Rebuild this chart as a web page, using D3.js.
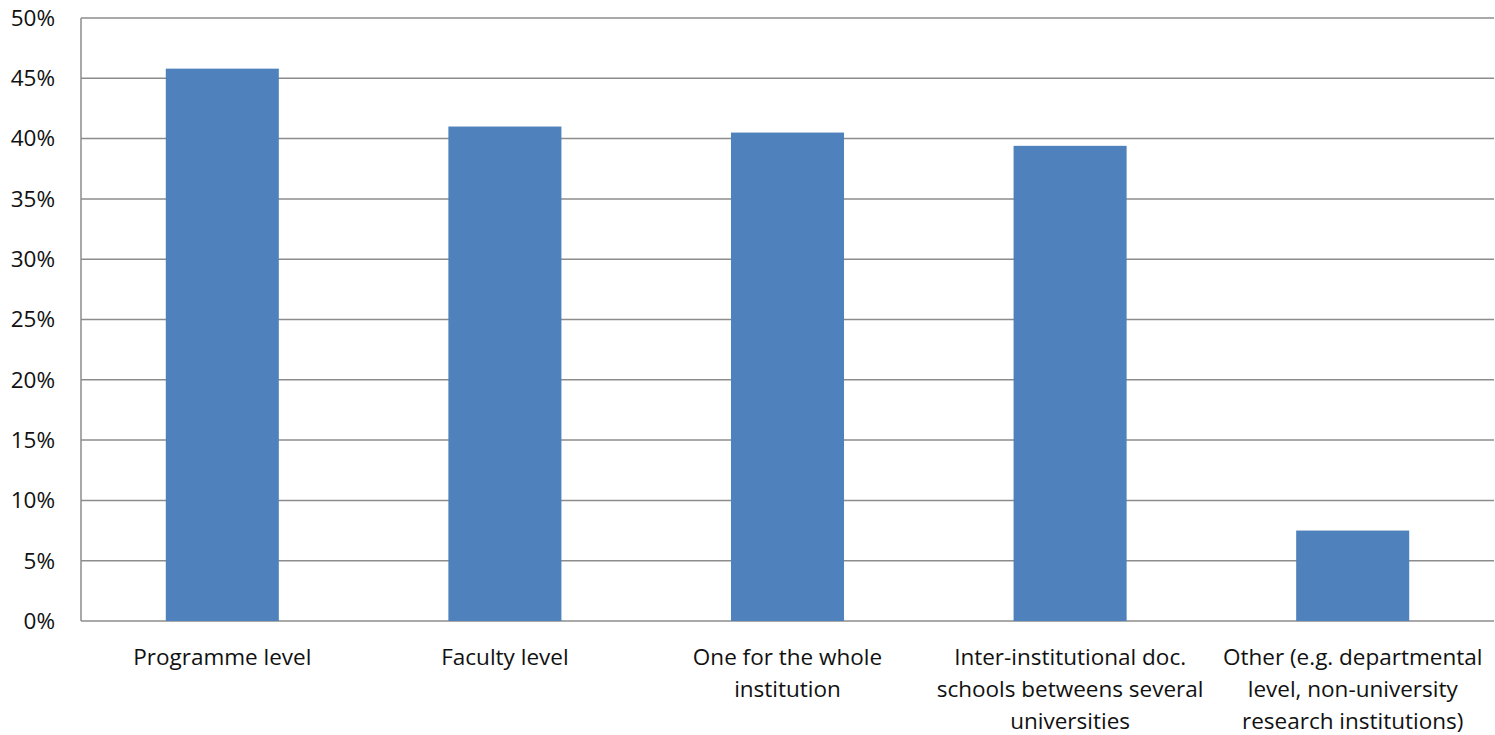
<!DOCTYPE html>
<html>
<head>
<meta charset="utf-8">
<script src="https://cdn.jsdelivr.net/npm/d3@7"></script>
<style>
  body { margin: 0; background: #fff; }
  text { font-family: "Open Sans", "Noto Sans", sans-serif; fill: #111; }
</style>
</head>
<body>
<div id="chart"></div>
<script>
// data
const categories = [
    ["Programme level"],
    ["Faculty level"],
    ["One for the whole", "institution"],
    ["Inter-institutional doc.", "schools betweens several", "universities"],
    ["Other (e.g. departmental", "level, non-university", "research institutions)"]
];
const values = [45.8, 41.0, 40.5, 39.4, 7.5];
const yTicks = [0, 5, 10, 15, 20, 25, 30, 35, 40, 45, 50];

const W = 1495, H = 735;
const margin = {top: 18, right: 1, bottom: 114, left: 81};
const width = W - margin.left - margin.right;
const height = H - margin.top - margin.bottom;

const svg = d3.select("#chart").append("svg")
    .attr("width", W)
    .attr("height", H)
    .append("g")
    .attr("transform", "translate(" + margin.left + "," + margin.top + ")");

const x = d3.scaleBand()
    .domain(d3.range(values.length))
    .range([0, width])
    .paddingInner(0.6)
    .paddingOuter(0.3);

const y = d3.scaleLinear()
    .domain([0, 50])
    .range([height, 0]);

// gridlines
svg.append("g")
    .selectAll("line")
    .data(yTicks)
    .enter().append("line")
    .attr("x1", 0)
    .attr("x2", width)
    .attr("y1", d => y(d))
    .attr("y2", d => y(d))
    .attr("stroke", "#8c8c8c")
    .attr("stroke-width", 1.5);

// bars
svg.append("g")
    .selectAll("rect")
    .data(values)
    .enter().append("rect")
    .attr("x", (d, i) => x(i))
    .attr("y", d => y(d))
    .attr("width", x.bandwidth())
    .attr("height", d => height - y(d))
    .attr("fill", "#4f81bd");

// y axis line
svg.append("line")
    .attr("x1", 0).attr("x2", 0)
    .attr("y1", 0).attr("y2", height)
    .attr("stroke", "#8c8c8c")
    .attr("stroke-width", 1.5);

// y labels
svg.append("g")
    .selectAll("text")
    .data(yTicks)
    .enter().append("text")
    .attr("x", -26)
    .attr("y", d => y(d))
    .attr("dy", "0.35em")
    .attr("text-anchor", "end")
    .style("font-size", "22.5px")
    .text(d => d + "%");

// x labels
const lbl = svg.append("g")
    .selectAll("text")
    .data(categories)
    .enter().append("text")
    .attr("text-anchor", "middle")
    .attr("transform", (d, i) => "translate(" + (x(i) + x.bandwidth() / 2) + "," + (height + 44) + ")")
    .style("font-size", "22.5px");

lbl.selectAll("tspan")
    .data(d => d)
    .enter().append("tspan")
    .attr("x", 0)
    .attr("y", (d, j) => j * 32)
    .text(d => d);
</script>
</body>
</html>
